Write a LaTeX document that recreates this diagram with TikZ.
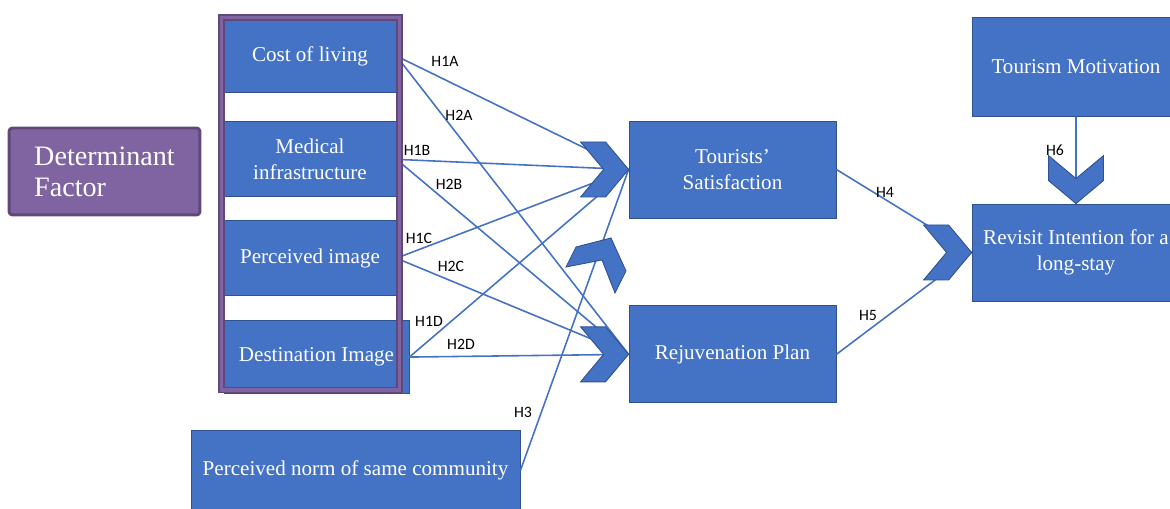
\documentclass[tikz,border=0pt]{standalone}
\usepackage{fontspec}
\setmainfont{Liberation Serif}
\newfontfamily\hypfont{Carlito}
\usepackage{tikz}
\usetikzlibrary{positioning,arrows.meta}
\definecolor{boxblue}{RGB}{68,114,196}
\definecolor{boxedge}{RGB}{47,82,143}
\definecolor{purpmid}{RGB}{128,100,162}
\definecolor{purpdark}{RGB}{95,73,122}

\begin{document}
\begin{tikzpicture}[x=0.02cm, y=-0.02cm,
	factor/.style={draw=boxedge, fill=boxblue, text=white, align=center,
		font=\fontsize{12}{14.5}\selectfont, line width=0.5pt, inner sep=2pt},
	link/.style={draw=boxblue, line width=0.9pt},
	hyp/.style={font=\hypfont\fontsize{9}{10}\selectfont, inner sep=0pt},
	chevfill/.style={draw=boxedge, fill=boxblue, line width=0.5pt},
	chevron/.pic={
		\draw[chevfill]
		(0,0) -- (-23,-27.5) -- (-48,-27.5) -- (-25,0) -- (-48,27.5) -- (-23,27.5) -- cycle;}
	]
	
	\useasboundingbox (0,0) rectangle (1170,509);
	\clip (0,0) rectangle (1170,509);
	
	% determinant factors
	\node[factor, minimum width=3.44cm, minimum height=1.44cm] (cost) at (310,56) {Cost of living};
	\node[factor, minimum width=3.44cm, minimum height=1.5cm, below=0.58cm of cost] (med) {Medical\\infrastructure};
	\node[factor, minimum width=3.44cm, minimum height=1.5cm, below=0.46cm of med] (perc) {Perceived image};
	\node[factor, minimum width=3.7cm, minimum height=1.46cm,
	below right=0.48cm and 0cm of perc.south west] (dest) {Destination Image};
	
	\node[
	draw=purpdark,
	fill=purpmid,
	line width=1.7pt,
	rounded corners=2pt,
	text=white,
	align=left,
	font=\fontsize{16}{17.5}\selectfont,
	minimum width=3.82cm,
	minimum height=1.74cm
	] (det) at (104.5,171.5) {Determinant\\Factor};
	
	\node[factor, minimum width=6.58cm, minimum height=1.62cm] (norm) at (355.5,470.5)
	{Perceived norm of same community};
	
	% outcomes
	\node[factor, minimum width=4.14cm, minimum height=1.94cm] (sat) at (732.5,169.5) {Tourists’\\Satisfaction};
	\node[factor, minimum width=4.14cm, minimum height=1.94cm, below=1.74cm of sat] (rej) {Rejuvenation Plan};
	\node[factor, minimum width=4.16cm, minimum height=1.94cm] (rev) at (1076,252.5)
	{Revisit Intention for a\\long-stay};
	\node[factor, minimum width=4.16cm, minimum height=1.98cm, above=1.74cm of rev] (motiv) {Tourism Motivation};
	
	% hypotheses
	\draw[link] (cost.east) -- (sat.west);
	\draw[link] (cost.east) -- (rej.west);
	\draw[link] (med.east) -- (sat.west);
	\draw[link] (med.east) -- (rej.west);
	\draw[link] (perc.east) -- (sat.west);
	\draw[link] (perc.east) -- (rej.west);
	\draw[link] (dest.east) -- (sat.west);
	\draw[link] (dest.east) -- (rej.west);
	\draw[link] (norm.east) -- (sat.west);
	\draw[link] (sat.east) -- (rev.west);
	\draw[link] (rej.east) -- (rev.west);
	\draw[link] (motiv.south) -- (rev.north);
	
	% frame round the factors
	\draw[line width=3.8pt, draw=purpdark] (221.7,17.3) rectangle (399.3,390);
	\draw[line width=1.8pt, draw=purpmid] (221.7,17.3) rectangle (399.3,390);
	
	\pic at (sat.west) {chevron};
	\pic at (rej.west) {chevron};
	\pic at (rev.west) {chevron};
	\pic[rotate=-90] at (rev.north) {chevron};
	% tilted one on H3
	\draw[chevfill] (566,267) -- (576,247) -- (611,238) -- (626,271) -- (615,293) -- (602,260) -- cycle;
	
	\node[hyp] (h1a) at (445,61) {H1A};
	\node[hyp] (h2a) at (459,115) {H2A};
	\node[hyp] (h1b) at (417,150) {H1B};
	\node[hyp] (h2b) at (449,184) {H2B};
	\node[hyp] (h1c) at (419,238) {H1C};
	\node[hyp] (h2c) at (451,266) {H2C};
	\node[hyp] (h1d) at (429,321) {H1D};
	\node[hyp] (h2d) at (461,344) {H2D};
	\node[hyp] (h3) at (523,412) {H3};
	\node[hyp] (h4) at (885,192) {H4};
	\node[hyp] (h5) at (868,315) {H5};
	\node[hyp] (h6) at (1055,150) {H6};
	
\end{tikzpicture}
\end{document}
